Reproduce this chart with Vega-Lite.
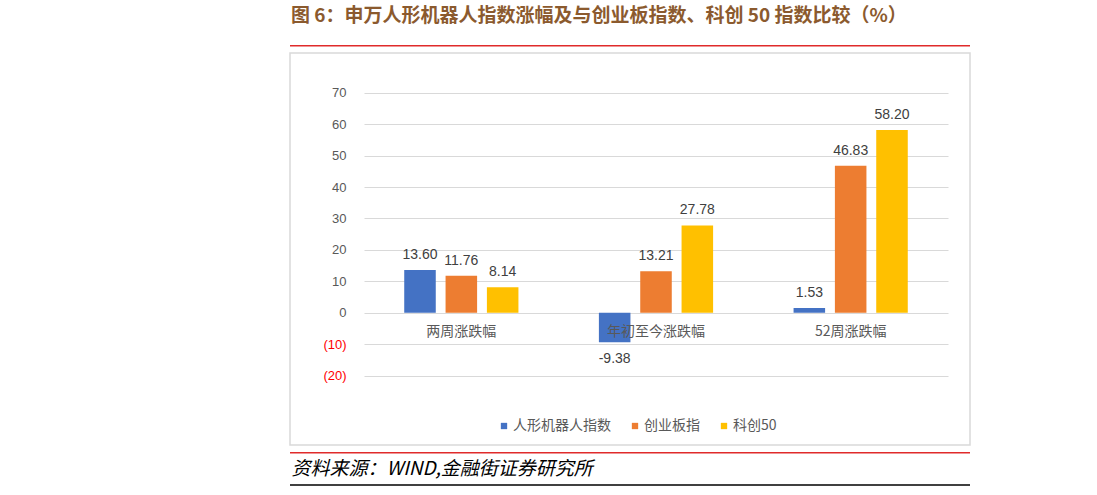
{
  "$schema": "https://vega.github.io/schema/vega-lite/v6.json",
  "description": "申万人形机器人指数涨幅及与创业板指数、科创50指数比较",
  "width": 680,
  "height": 392,
  "autosize": {"type": "none"},
  "padding": {"left": 290, "top": 53, "right": 127, "bottom": 50},
  "background": "white",
  "title": {
    "text": "图 6：申万人形机器人指数涨幅及与创业板指数、科创 50 指数比较（%）",
    "anchor": "start",
    "frame": "group",
    "offset": 19,
    "dx": 1,
    "font": "Noto Sans CJK SC",
    "fontSize": 19,
    "fontWeight": "bold",
    "color": "#8B5A2E"
  },
  "config": {
    "font": "Noto Sans CJK SC",
    "view": {"stroke": "#D9D9D9", "strokeWidth": 1.5},
    "locale": {
      "number": {"decimal": ".", "thousands": ",", "grouping": [3], "currency": ["", ""], "minus": "-"}
    }
  },
  "data": {
    "values": [
      {"period": "两周涨跌幅", "series": "人形机器人指数", "value": 13.60},
      {"period": "两周涨跌幅", "series": "创业板指", "value": 11.76},
      {"period": "两周涨跌幅", "series": "科创50", "value": 8.14},
      {"period": "年初至今涨跌幅", "series": "人形机器人指数", "value": -9.38},
      {"period": "年初至今涨跌幅", "series": "创业板指", "value": 13.21},
      {"period": "年初至今涨跌幅", "series": "科创50", "value": 27.78},
      {"period": "52周涨跌幅", "series": "人形机器人指数", "value": 1.53},
      {"period": "52周涨跌幅", "series": "创业板指", "value": 46.83},
      {"period": "52周涨跌幅", "series": "科创50", "value": 58.20}
    ]
  },
  "layer": [
    {
      "encoding": {
        "x": {
          "field": "period",
          "type": "nominal",
          "sort": ["两周涨跌幅", "年初至今涨跌幅", "52周涨跌幅"],
          "scale": {"range": [74, 658], "paddingInner": 0.363, "paddingOuter": 0.1815},
          "axis": {
            "title": "资料来源：WIND,金融街证券研究所",
            "titleX": 1,
            "titleY": 156,
            "titleAlign": "left",
            "titleBaseline": "middle",
            "titleFont": "Noto Sans CJK SC",
            "titleFontStyle": "italic",
            "titleFontWeight": "normal",
            "titleFontSize": 19,
            "titleColor": "#000000",
            "offset": -132.3,
            "domain": false,
            "ticks": false,
            "labelAngle": 0,
            "labelPadding": 12,
            "labelBaseline": "top",
            "labelFontSize": 14,
            "labelColor": "#595959",
            "zindex": 1
          }
        },
        "xOffset": {
          "field": "series",
          "type": "nominal",
          "sort": ["人形机器人指数", "创业板指", "科创50"],
          "scale": {"paddingInner": 0.237, "paddingOuter": 0.1185}
        },
        "y": {
          "field": "value",
          "type": "quantitative",
          "scale": {"domain": [-20, 70], "range": [322.5, 39.9], "nice": false, "zero": false},
          "axis": {
            "title": null,
            "values": [-20, -10, 0, 10, 20, 30, 40, 50, 60, 70],
            "offset": -56,
            "domain": false,
            "ticks": false,
            "labelPadding": 0,
            "labelFont": "Liberation Sans",
            "labelFontSize": 13,
            "labelExpr": "datum.value < 0 ? '(' + (-datum.value) + ')' : datum.label",
            "labelColor": {"condition": {"test": "datum.value < 0", "value": "#FF0000"}, "value": "#595959"},
            "gridColor": "#D9D9D9",
            "gridWidth": 1
          }
        }
      },
      "layer": [
        {
          "mark": {"type": "bar"},
          "encoding": {
            "color": {
              "field": "series",
              "type": "nominal",
              "sort": ["人形机器人指数", "创业板指", "科创50"],
              "scale": {
                "domain": ["人形机器人指数", "创业板指", "科创50"],
                "range": ["#4472C4", "#ED7D31", "#FFC000"]
              },
              "legend": {
                "title": null,
                "orient": "none",
                "legendX": 207,
                "legendY": 366,
                "direction": "horizontal",
                "symbolType": "square",
                "symbolSize": 40,
                "symbolStrokeWidth": 0,
                "labelFontSize": 14,
                "labelColor": "#595959",
                "labelOffset": 2,
                "columnPadding": 17,
                "padding": 0
              }
            }
          }
        },
        {
          "transform": [{"filter": "datum.value >= 0"}],
          "mark": {"type": "text", "baseline": "alphabetic", "dy": -11, "font": "Liberation Sans", "fontSize": 14, "color": "#404040"},
          "encoding": {"text": {"field": "value", "type": "quantitative", "format": ".2f"}}
        },
        {
          "transform": [{"filter": "datum.value < 0"}],
          "mark": {"type": "text", "baseline": "top", "dy": 10, "font": "Liberation Sans", "fontSize": 14, "color": "#404040"},
          "encoding": {"text": {"field": "value", "type": "quantitative", "format": ".2f"}}
        }
      ]
    },
    {
      "data": {"values": [{}]},
      "mark": {"type": "rule", "color": "#E02B2B", "strokeWidth": 1.5},
      "encoding": {"y": {"datum": 85.03}}
    },
    {
      "data": {"values": [{}]},
      "mark": {"type": "rule", "color": "#E02B2B", "strokeWidth": 1.5},
      "encoding": {"y": {"datum": -44.59}}
    },
    {
      "data": {"values": [{}]},
      "mark": {"type": "rule", "color": "#404040", "strokeWidth": 2},
      "encoding": {"y": {"datum": -54.87}}
    }
  ]
}
